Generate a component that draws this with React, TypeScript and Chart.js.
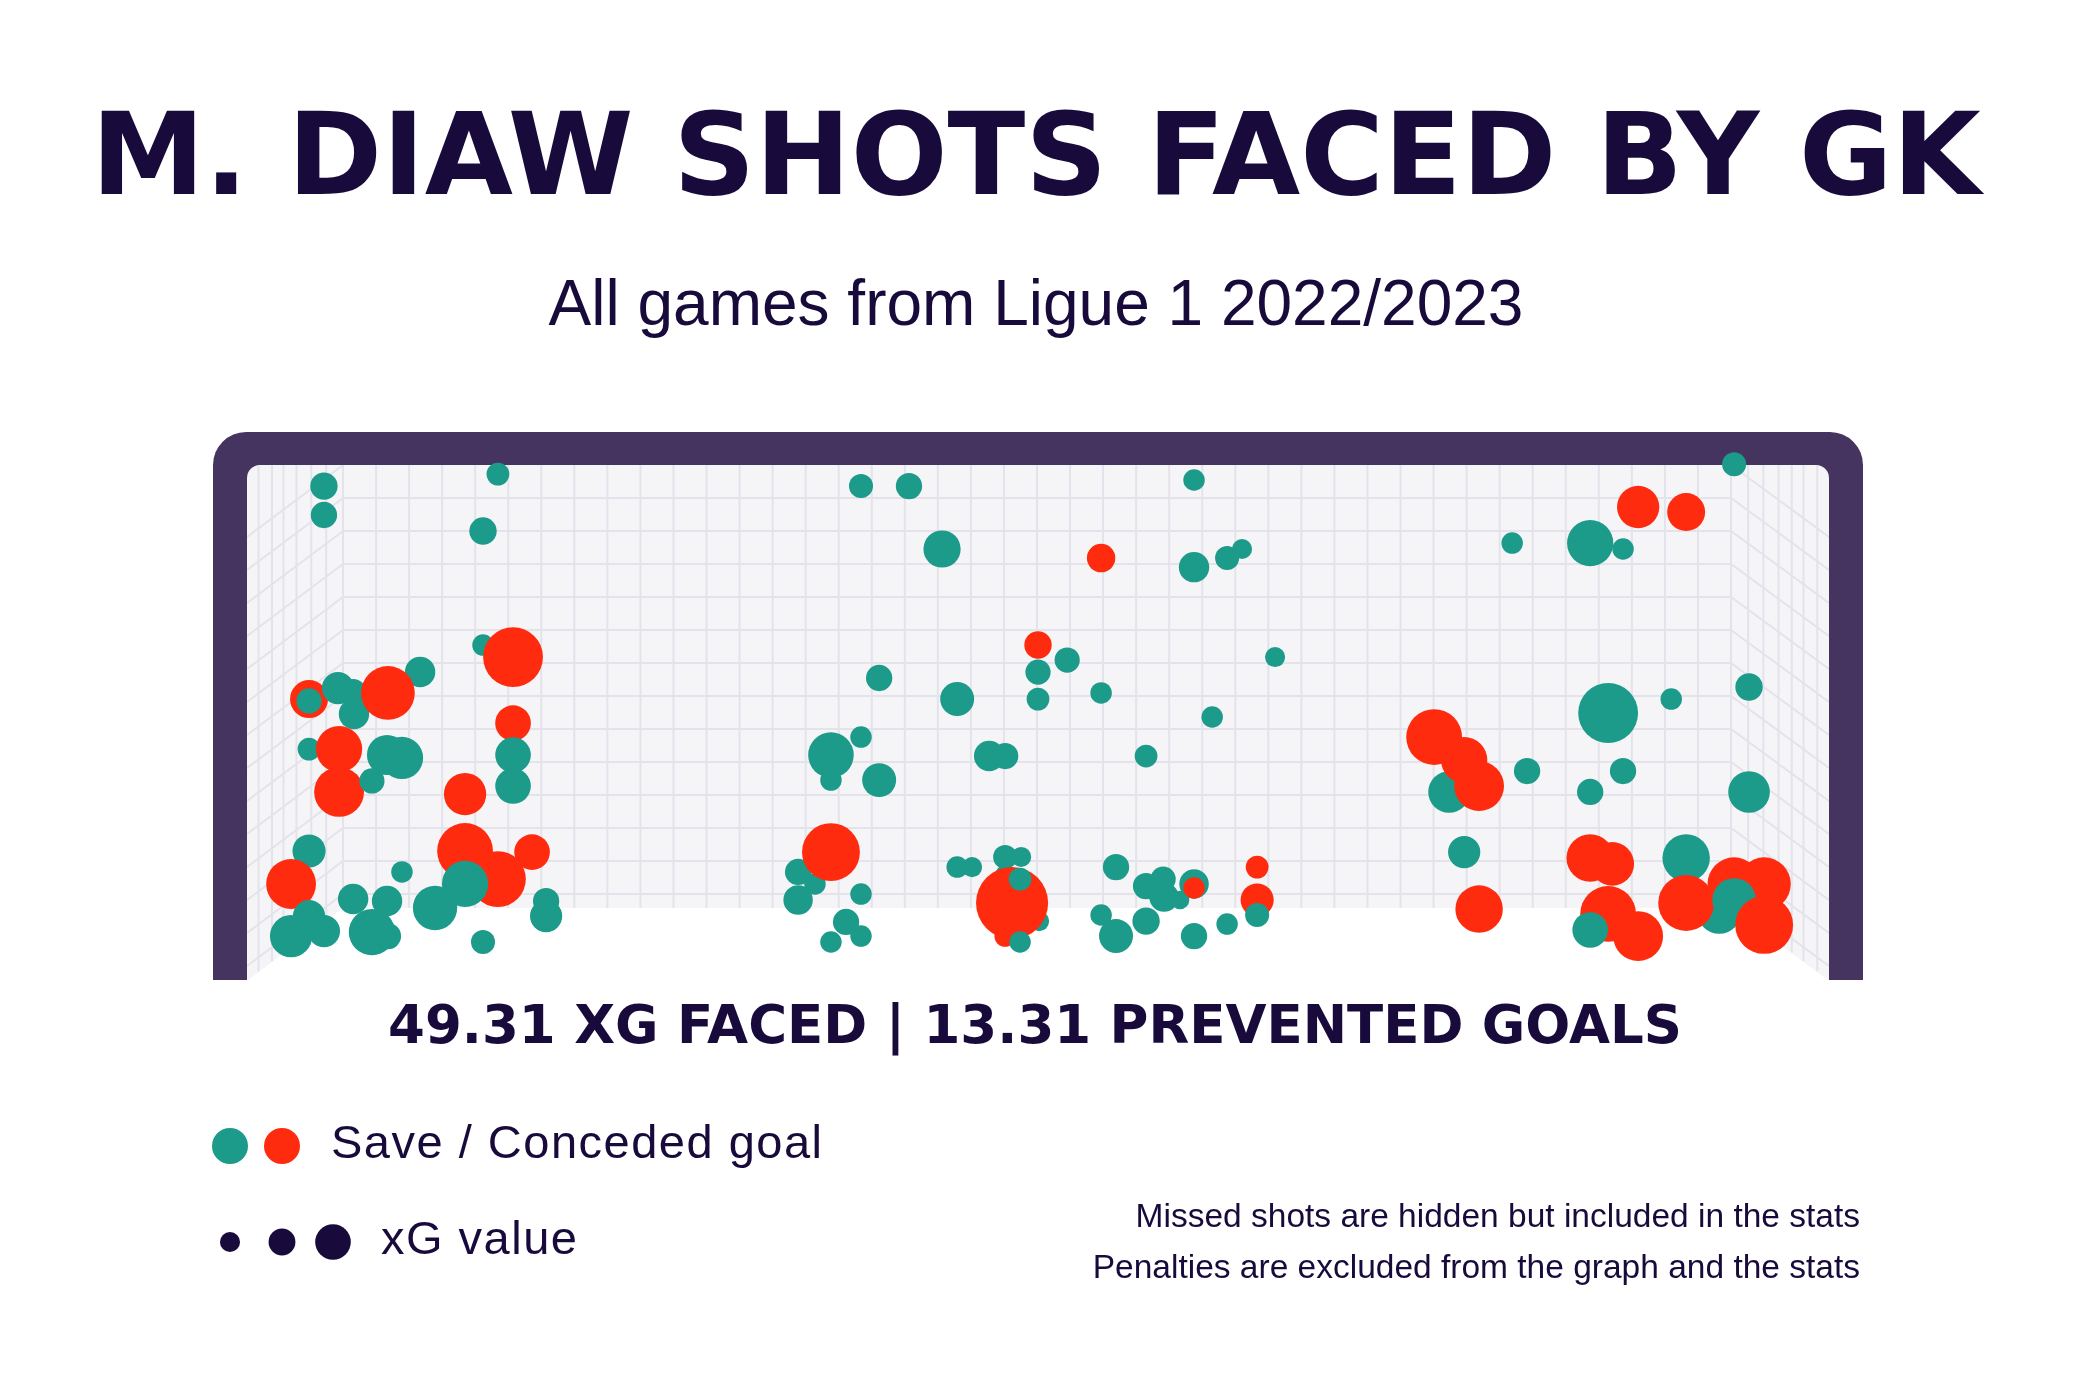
import React, { useEffect, useRef } from "react";
import { Chart, registerables } from "chart.js";

Chart.register(...registerables);

// ---------- texts ----------
const TITLE = "M. DIAW SHOTS FACED BY GK";
const SUBTITLE = "All games from Ligue 1 2022/2023";
const XG_FACED = 49.31;
const PREVENTED_GOALS = 13.31;
const LEGEND_OUTCOME_LABEL = "Save / Conceded goal";
const LEGEND_SIZE_LABEL = "xG value";
const LEGEND_SIZE_XG = [0.07, 0.125, 0.22];
const NOTES = [
  "Missed shots are hidden but included in the stats",
  "Penalties are excluded from the graph and the stats",
];

// ---------- goal dimensions (metres) ----------
const GOAL_WIDTH = 7.32;
const GOAL_HEIGHT = 2.44;

// ---------- shots on target (drawing order) ----------
// x: metres from left post, y: metres from the ground
const shotX = [
  // left third
  0.356, 0.356, 1.161, 1.092, 1.092, 1.231, 0.801, 0.287, 0.287, 0.421,
  0.491, 0.495, 0.652, 0.287, 0.426, 0.426, 0.578, 0.648, 0.717, 1.231,
  1.231, 1.231, 1.009, 0.287, 0.204, 0.717, 1.009, 1.319, 1.161, 1.009,
  0.491, 0.648, 0.578, 0.652, 0.287, 0.204, 0.356, 0.870, 1.384, 1.384,
  1.092,
  // centre
  2.841, 3.063, 3.216, 3.952, 4.382, 4.382, 4.535, 4.604, 3.660, 3.795,
  3.660, 3.660, 3.952, 4.757, 2.925, 3.286, 4.466, 2.841, 2.702, 2.702,
  2.925, 3.434, 3.508, 4.160, 2.550, 2.628, 2.702, 2.550, 2.841, 2.772,
  2.702, 2.841, 3.286, 3.355, 3.508, 3.582, 3.508, 3.665, 3.540, 3.577,
  3.508, 3.577, 4.021, 3.952, 4.021, 4.160, 4.239, 4.243, 4.317, 4.160,
  4.382, 4.382, 4.382, 4.535, 4.674, 4.674, 4.674,
  // right third
  6.881, 6.437, 6.659, 5.854, 6.215, 6.367, 6.298, 6.590, 6.950, 5.562,
  5.493, 5.632, 5.701, 5.923, 6.367, 6.215, 6.950, 5.632, 5.701, 6.215,
  6.317, 6.659, 6.298, 6.437, 6.215, 6.812, 6.659, 6.881, 7.020, 6.881,
  7.020,
];
const shotY = [
  2.340, 2.203, 2.397, 2.127, 1.587, 1.530, 1.459, 1.331, 1.322, 1.383,
  1.364, 1.260, 1.360, 1.094, 1.094, 0.891, 0.943, 1.066, 1.052, 1.217,
  1.066, 0.919, 0.881, 0.611, 0.455, 0.512, 0.611, 0.606, 0.478, 0.455,
  0.384, 0.374, 0.227, 0.208, 0.303, 0.208, 0.232, 0.341, 0.374, 0.303,
  0.180,
  2.340, 2.340, 2.042, 1.999, 2.369, 1.956, 1.999, 2.042, 1.587, 1.516,
  1.459, 1.331, 1.360, 1.530, 1.431, 1.331, 1.246, 1.151, 1.066, 0.947,
  0.947, 1.061, 1.061, 1.061, 0.512, 0.455, 0.606, 0.379, 0.407, 0.275,
  0.180, 0.208, 0.535, 0.535, 0.583, 0.583, 0.497, 0.279, 0.365, 0.478,
  0.208, 0.180, 0.535, 0.308, 0.208, 0.445, 0.478, 0.393, 0.379, 0.279,
  0.455, 0.436, 0.208, 0.265, 0.535, 0.379, 0.308,
  2.444, 2.241, 2.217, 2.070, 2.070, 2.042, 1.265, 1.331, 1.388, 0.891,
  1.151, 1.042, 0.919, 0.990, 0.990, 0.891, 0.891, 0.606, 0.336, 0.578,
  0.550, 0.578, 0.313, 0.208, 0.237, 0.322, 0.365, 0.455, 0.455, 0.379,
  0.261,
];
const shotXg = [
  0.13, 0.12, 0.09, 0.13, 0.08, 0.62, 0.16, 0.25, 0.11, 0.18,
  0.12, 0.16, 0.50, 0.09, 0.37, 0.43, 0.11, 0.28, 0.31, 0.22,
  0.22, 0.22, 0.31, 0.19, 0.43, 0.08, 0.54, 0.22, 0.54, 0.37,
  0.16, 0.16, 0.37, 0.12, 0.18, 0.31, 0.18, 0.34, 0.12, 0.18,
  0.10,
  0.10, 0.12, 0.24, 0.14, 0.08, 0.16, 0.10, 0.07, 0.13, 0.11,
  0.11, 0.09, 0.08, 0.07, 0.12, 0.20, 0.08, 0.08, 0.36, 0.08,
  0.20, 0.16, 0.12, 0.09, 0.12, 0.08, 0.58, 0.15, 0.08, 0.12,
  0.08, 0.08, 0.08, 0.07, 0.10, 0.07, 0.07, 0.07, 0.90, 0.09,
  0.08, 0.08, 0.12, 0.08, 0.20, 0.12, 0.11, 0.15, 0.06, 0.13,
  0.15, 0.08, 0.12, 0.08, 0.09, 0.19, 0.10,
  0.10, 0.31, 0.25, 0.08, 0.37, 0.08, 0.62, 0.08, 0.13, 0.30,
  0.54, 0.37, 0.43, 0.12, 0.12, 0.12, 0.30, 0.18, 0.39, 0.39,
  0.33, 0.39, 0.54, 0.43, 0.22, 0.33, 0.54, 0.49, 0.49, 0.33,
  0.58,
];
// S = save, G = conceded goal
const shotOutcome = [
  "S", "S", "S", "S", "S", "G", "S", "G", "S", "S",
  "S", "S", "G", "S", "G", "G", "S", "S", "S", "G",
  "S", "S", "G", "S", "G", "S", "G", "G", "G", "S",
  "S", "S", "S", "S", "S", "S", "S", "S", "S", "S",
  "S",
  "S", "S", "S", "G", "S", "S", "S", "S", "G", "S",
  "S", "S", "S", "S", "S", "S", "S", "S", "S", "S",
  "S", "S", "S", "S", "S", "S", "G", "S", "S", "S",
  "S", "S", "S", "S", "S", "S", "S", "S", "G", "S",
  "G", "S", "S", "S", "S", "S", "S", "S", "S", "S",
  "S", "G", "S", "S", "G", "G", "S",
  "S", "G", "G", "S", "S", "S", "S", "S", "S", "S",
  "G", "G", "G", "S", "S", "S", "S", "S", "G", "G",
  "G", "S", "G", "G", "S", "S", "G", "G", "G", "S",
  "G",
];

// ---------- styles ----------
const W = 2073;
const H = 1383;
const TEAL = "#1c9a8a";
const RED = "#ff2b0f";
const INK = "#180b3c";
const FRAME = "#453460";
const NET_BG = "#f5f5f8";
const NET_LINE = "#e4e2ea";
const SIDE_LINE_FRACTIONS = [0.12, 0.26, 0.38, 0.515, 0.67, 0.825];

const radiusFor = (xg: number) => 38 * Math.sqrt(xg);

const goalPlugin = {
  id: "goalFrame",
  beforeDatasetsDraw(chart: any) {
    const { ctx, chartArea } = chart;
    const { left, right, top, bottom } = chartArea;
    const postW = 34;
    const barH = 33;
    const backL = left + 96;
    const backR = right - 98;
    const backB = bottom - 72;
    const drop = bottom - backB;
    ctx.save();
    // frame
    ctx.fillStyle = FRAME;
    ctx.beginPath();
    ctx.roundRect(left - postW, top - barH, right - left + 2 * postW, bottom - top + barH, [33, 33, 0, 0]);
    ctx.fill();
    // net background
    ctx.fillStyle = NET_BG;
    ctx.beginPath();
    ctx.roundRect(left, top, right - left, bottom - top, [13, 13, 0, 0]);
    ctx.fill();
    ctx.save();
    ctx.clip();
    ctx.strokeStyle = NET_LINE;
    ctx.lineWidth = 2;
    // back net verticals
    const cols = 42;
    const cw = (backR - backL) / cols;
    for (let i = 0; i <= cols; i++) {
      const x = backL + i * cw;
      ctx.beginPath();
      ctx.moveTo(x, top);
      ctx.lineTo(x, backB);
      ctx.stroke();
    }
    // horizontals + parallel side diagonals
    const rh = 33;
    for (let y = top; y < backB; y += rh) {
      ctx.beginPath();
      ctx.moveTo(left, y + drop);
      ctx.lineTo(backL, y);
      ctx.stroke();
      ctx.beginPath();
      ctx.moveTo(backR, y);
      ctx.lineTo(right, y + drop);
      ctx.stroke();
      if (y > top) {
        ctx.beginPath();
        ctx.moveTo(backL, y);
        ctx.lineTo(backR, y);
        ctx.stroke();
      }
    }
    // side verticals (fractions measured from the post)
    SIDE_LINE_FRACTIONS.forEach((f) => {
      const xl = left + f * (backL - left);
      const xr = right - f * (right - backR);
      const yb = bottom - f * drop;
      ctx.beginPath();
      ctx.moveTo(xl, top);
      ctx.lineTo(xl, yb);
      ctx.moveTo(xr, top);
      ctx.lineTo(xr, yb);
      ctx.stroke();
    });
    ctx.restore();
    // floor
    ctx.fillStyle = "#ffffff";
    ctx.beginPath();
    ctx.moveTo(left, bottom + 1);
    ctx.lineTo(backL, backB);
    ctx.lineTo(backR, backB);
    ctx.lineTo(right, bottom + 1);
    ctx.closePath();
    ctx.fill();
    ctx.restore();
  },
};

const textPlugin = {
  id: "texts",
  afterDraw(chart: any) {
    const ctx = chart.ctx as CanvasRenderingContext2D;
    ctx.save();
    ctx.fillStyle = INK;
    ctx.textBaseline = "alphabetic";
    ctx.textAlign = "center";
    ctx.font = "bold 114px 'DejaVu Sans'";
    ctx.fillText(TITLE, 1036, 194);
    ctx.font = "64px 'Liberation Sans'";
    ctx.fillText(SUBTITLE, 1036, 325);
    ctx.font = "bold 53px 'DejaVu Sans'";
    ctx.fillText(
      `${XG_FACED.toFixed(2)} XG FACED | ${PREVENTED_GOALS.toFixed(2)} PREVENTED GOALS`,
      1035,
      1043
    );
    // legend
    ctx.textAlign = "left";
    ctx.fillStyle = TEAL;
    ctx.beginPath();
    ctx.arc(230, 1146, 18, 0, Math.PI * 2);
    ctx.fill();
    ctx.fillStyle = RED;
    ctx.beginPath();
    ctx.arc(282, 1146, 18, 0, Math.PI * 2);
    ctx.fill();
    ctx.fillStyle = INK;
    const sizeX = [230, 282, 333];
    LEGEND_SIZE_XG.forEach((xg, i) => {
      ctx.beginPath();
      ctx.arc(sizeX[i], 1242, radiusFor(xg), 0, Math.PI * 2);
      ctx.fill();
    });
    ctx.font = "47px 'Liberation Sans'";
    (ctx as any).letterSpacing = "1.5px";
    ctx.fillText(LEGEND_OUTCOME_LABEL, 331, 1158);
    ctx.fillText(LEGEND_SIZE_LABEL, 381, 1254);
    (ctx as any).letterSpacing = "0px";
    // notes
    ctx.textAlign = "right";
    ctx.font = "33.5px 'Liberation Sans'";
    ctx.fillText(NOTES[0], 1860, 1227);
    ctx.fillText(NOTES[1], 1860, 1278);
    ctx.restore();
  },
};

export default function App() {
  const ref = useRef<HTMLCanvasElement | null>(null);
  useEffect(() => {
    if (!ref.current) return;
    const points = shotX.map((x, i) => ({ x, y: shotY[i], r: radiusFor(shotXg[i]) }));
    const colors = shotOutcome.map((o) => (o === "G" ? RED : TEAL));
    const chart = new Chart(ref.current, {
      type: "bubble",
      data: {
        datasets: [
          {
            label: "Shots",
            data: points,
            backgroundColor: colors,
            hoverBackgroundColor: colors,
            borderWidth: 0,
            hoverBorderWidth: 0,
            hoverRadius: 0,
            clip: false,
          } as any,
        ],
      },
      options: {
        responsive: false,
        maintainAspectRatio: false,
        devicePixelRatio: 1,
        animation: false,
        events: [],
        layout: { padding: { left: 247, right: W - 1829, top: 465, bottom: H - 980 } },
        scales: {
          x: { type: "linear", min: 0, max: GOAL_WIDTH, display: false },
          y: { type: "linear", min: 0, max: GOAL_HEIGHT, display: false },
        },
        plugins: { legend: { display: false }, tooltip: { enabled: false } },
      },
      plugins: [goalPlugin, textPlugin],
    });
    return () => chart.destroy();
  }, []);
  return (
    <div style={{ position: "fixed", left: 0, top: 0, width: W, height: H, background: "#fff" }}>
      <canvas ref={ref} width={W} height={H} style={{ width: W, height: H, display: "block" }} />
    </div>
  );
}
